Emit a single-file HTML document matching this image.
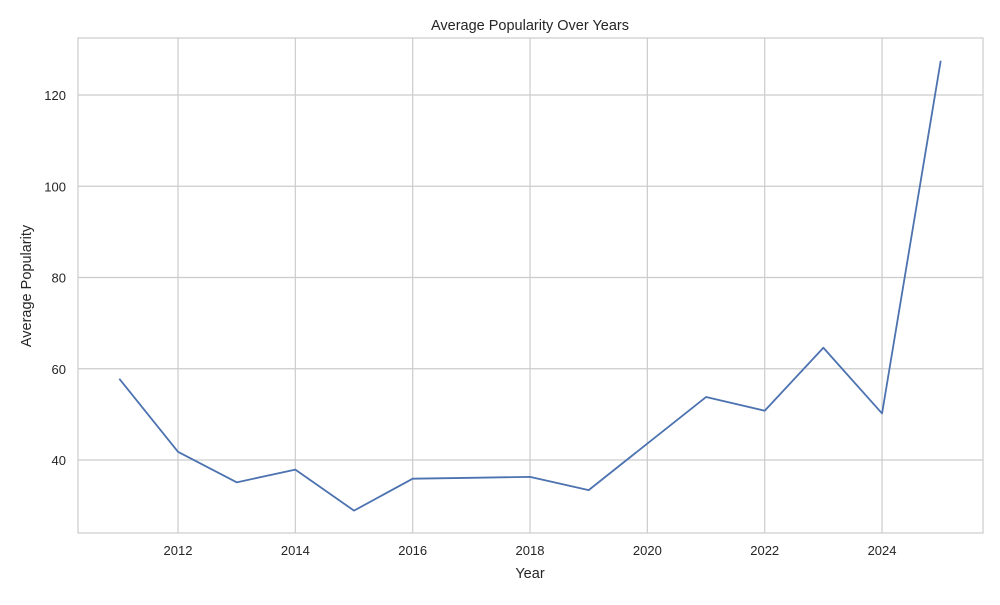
<!DOCTYPE html>
<html><head><meta charset="utf-8"><style>
body{margin:0;background:#fff;font-family:"Liberation Sans","DejaVu Sans",sans-serif;}
svg text{fill:#262626;}
</style></head><body>
<svg id="chart" width="1000" height="600" viewBox="0 0 1000 600">
<rect x="0" y="0" width="1000" height="600" fill="#fff"/>
<g id="grid"></g>
<rect x="78" y="38" width="905" height="495" fill="none" stroke="#cccccc" stroke-width="1.2"/>
<g id="ticks"></g>
<g id="series"></g>
<text x="530" y="30" text-anchor="middle" font-size="14.5">Average Popularity Over Years</text>
<text x="530" y="578" text-anchor="middle" font-size="14.5">Year</text>
<text x="31" y="286" text-anchor="middle" font-size="14.5" transform="rotate(-90 31 286)">Average Popularity</text>
</svg>
<script>
const years=[2011,2012,2013,2014,2015,2016,2017,2018,2019,2020,2021,2022,2023,2024,2025];
const popularity=[57.8,41.8,35.1,37.9,28.9,35.9,36.1,36.3,33.4,43.6,53.8,50.8,64.6,50.2,127.5];
const xTicks=[2012,2014,2016,2018,2020,2022,2024];
const yTicks=[40,60,80,100,120];
const NS="http://www.w3.org/2000/svg";
const L=78,R=983,T=38,B=533;
const x=v=>178+(v-2012)*58.67;
const y=v=>460-(v-40)*4.5625;
const grid=document.getElementById('grid'),ticks=document.getElementById('ticks'),series=document.getElementById('series');
function mk(tag,attrs,parent){const e=document.createElementNS(NS,tag);for(const k in attrs)e.setAttribute(k,attrs[k]);parent.appendChild(e);return e;}
xTicks.forEach(t=>{
 const g=mk('line',{x1:x(t),x2:x(t),y1:T,y2:B,stroke:'#cccccc','stroke-width':1.2},grid);
 
 
 const tx=mk('text',{x:x(t),y:B+22,'text-anchor':'middle','font-size':13},ticks);
 tx.textContent=t;
 
 
});
yTicks.forEach(t=>{
 const g=mk('line',{x1:L,x2:R,y1:y(t),y2:y(t),stroke:'#cccccc','stroke-width':1.2},grid);
 
 
 const tx=mk('text',{x:L-12,y:y(t)+5,'text-anchor':'end','font-size':13},ticks);
 tx.textContent=t;
 
 
});
const p=mk('polyline',{points:years.map((yr,i)=>x(yr)+','+y(popularity[i])).join(' '),fill:'none',stroke:'#4c72b0','stroke-width':1.8,'stroke-linejoin':'round'},series);


</script>
</body></html>
